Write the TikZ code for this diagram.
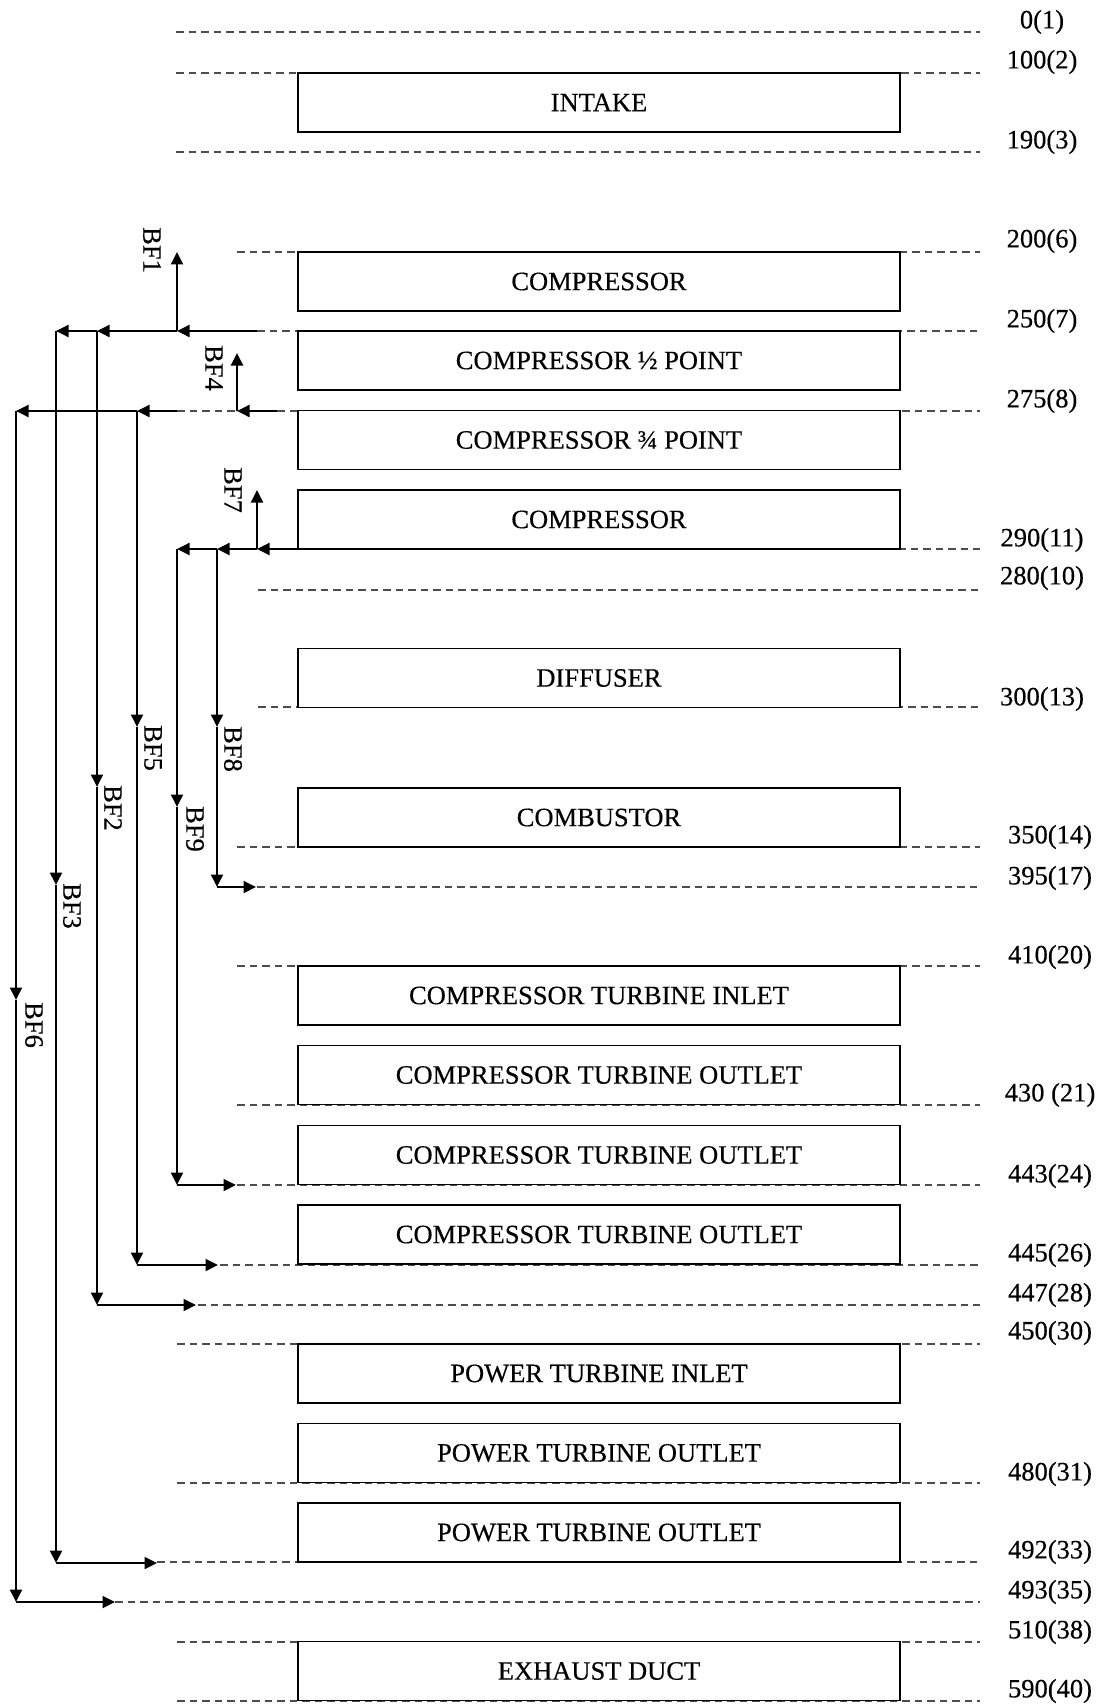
\documentclass[tikz,border=0pt]{standalone}
\usepackage{fontspec}
\setmainfont{Liberation Serif}[FakeBold=0.35]
\usetikzlibrary{arrows.meta}
\begin{document}
\begin{tikzpicture}[x=1pt,y=-1pt,
  txt/.style={font=\fontsize{26.5}{30}\selectfont},
  stage/.style={txt,draw,line width=1.4pt,fill=white,minimum width=602pt,minimum height=59pt,inner sep=0pt},
  refline/.style={dash pattern=on 7.5pt off 5pt,line width=1.4pt,black!70},
  arr/.style={-{Triangle[length=12.5pt,width=12pt]},line width=1.9pt},
  lvl/.style={txt,inner sep=0pt},
  bf/.style={txt,rotate=-90,inner sep=0pt}]
\useasboundingbox (0,0) rectangle (1103,1704);

% reference (station) lines
\foreach \y/\x in {32/176,73/176,152/176,252/237,331/257,411/177,549/298,590/258,707/258,
  847/237,887/257,966/237,1105/237,1185/237,1265/220,1305/198,1344/177,1483/177,
  1562/157,1602/115,1642/177,1701/177}
  \draw[refline] (\x,\y) -- (980,\y);

% stages
\node[stage] (intake) at (599,102.5) {INTAKE};
\node[stage] (comp1)  at (599,281.5) {COMPRESSOR};
\node[stage] (comphalf) at (599,360.5) {COMPRESSOR ½ POINT};
\node[stage] (compthq) at (599,440) {COMPRESSOR ¾ POINT};
\node[stage] (comp2)  at (599,519.5) {COMPRESSOR};
\node[stage] (diff)   at (599,678) {DIFFUSER};
\node[stage] (comb)   at (599,817.5) {COMBUSTOR};
\node[stage] (cti)    at (599,995.5) {COMPRESSOR TURBINE INLET};
\node[stage] (cto1)   at (599,1075) {COMPRESSOR TURBINE OUTLET};
\node[stage] (cto2)   at (599,1155) {COMPRESSOR TURBINE OUTLET};
\node[stage] (cto3)   at (599,1234.5) {COMPRESSOR TURBINE OUTLET};
\node[stage] (pti)    at (599,1373.5) {POWER TURBINE INLET};
\node[stage] (pto1)   at (599,1453) {POWER TURBINE OUTLET};
\node[stage] (pto2)   at (599,1532.5) {POWER TURBINE OUTLET};
\node[stage] (exh)    at (599,1671) {EXHAUST DUCT};

% station labels
\foreach \x/\y/\t/\n in {1042/22/0(1)/l1,1042/62/100(2)/l2,1042/142/190(3)/l3,1042/241/200(6)/l6,
  1042/321/250(7)/l7,1042/401/275(8)/l8,1042/540/290(11)/l11,1042/578/280(10)/l10,
  1042/699/300(13)/l13,1050/837/350(14)/l14,1050/878/395(17)/l17,1050/957/410(20)/l20,
  1050/1095/430 (21)/l21,1050/1176/443(24)/l24,1050/1255/445(26)/l26,1050/1295/447(28)/l28,
  1050/1333/450(30)/l30,1050/1474/480(31)/l31,1050/1552/492(33)/l33,1050/1592/493(35)/l35,
  1050/1632/510(38)/l38,1050/1691/590(40)/l40}
  \node[lvl] (\n) at (\x,\y) {\t};

% bleed coordinates
\coordinate (s7) at (257,331);  \coordinate (a7) at (177,331);
\coordinate (b7) at (97,331);   \coordinate (c7) at (56,331);
\coordinate (s8) at (277,411);  \coordinate (a8) at (237,411);
\coordinate (d8) at (177,411);  \coordinate (b8) at (137,411);
\coordinate (c8) at (16,411);
\coordinate (s11) at (298,549); \coordinate (a11) at (257,549);
\coordinate (b11) at (217,549); \coordinate (c11) at (177,549);

\coordinate (bf1) at (177,252);
\coordinate (bf4) at (237,353);
\coordinate (bf7) at (257,490);

\coordinate (m2) at (97,787);   \coordinate (e2) at (97,1305);  \coordinate (t2) at (196,1305);
\coordinate (m3) at (56,885);   \coordinate (e3) at (56,1563);  \coordinate (t3) at (157,1563);
\coordinate (m5) at (137,727);  \coordinate (e5) at (137,1265); \coordinate (t5) at (218,1265);
\coordinate (m6) at (16,1000);  \coordinate (e6) at (16,1602);  \coordinate (t6) at (115,1602);
\coordinate (m8) at (217,727);  \coordinate (e8) at (217,887);  \coordinate (t8) at (256,887);
\coordinate (m9) at (177,807);  \coordinate (e9) at (177,1185); \coordinate (t9) at (236,1185);

% horizontal bleed takeoffs
\draw[arr] (s7) -- (a7);  \draw[arr] (a7) -- (b7);  \draw[arr] (b7) -- (c7);
\draw[arr] (s8) -- (a8);  \draw[arr] (d8) -- (b8);  \draw[arr] (b8) -- (c8);
\draw[arr] (s11) -- (a11); \draw[arr] (a11) -- (b11); \draw[arr] (b11) -- (c11);

% overboard bleeds
\draw[arr] (a7) -- (bf1);
\draw[arr] (a8) -- (bf4);
\draw[arr] (a11) -- (bf7);

% ducted bleeds
\draw[arr] (b7) -- (m2);  \draw[arr] (m2) -- (e2);  \draw[arr] (e2) -- (t2);
\draw[arr] (c7) -- (m3);  \draw[arr] (m3) -- (e3);  \draw[arr] (e3) -- (t3);
\draw[arr] (b8) -- (m5);  \draw[arr] (m5) -- (e5);  \draw[arr] (e5) -- (t5);
\draw[arr] (c8) -- (m6);  \draw[arr] (m6) -- (e6);  \draw[arr] (e6) -- (t6);
\draw[arr] (b11) -- (m8); \draw[arr] (m8) -- (e8);  \draw[arr] (e8) -- (t8);
\draw[arr] (c11) -- (m9); \draw[arr] (m9) -- (e9);  \draw[arr] (e9) -- (t9);

% bleed labels
\node[bf] (lbf1) at (152,250) {BF1};
\node[bf] (lbf4) at (214,368) {BF4};
\node[bf] (lbf7) at (233,490) {BF7};
\node[bf] (lbf5) at (153,748) {BF5};
\node[bf] (lbf8) at (233,749) {BF8};
\node[bf] (lbf2) at (113,808) {BF2};
\node[bf] (lbf9) at (195,829) {BF9};
\node[bf] (lbf3) at (72,906) {BF3};
\node[bf] (lbf6) at (34,1025) {BF6};
\end{tikzpicture}
\end{document}
